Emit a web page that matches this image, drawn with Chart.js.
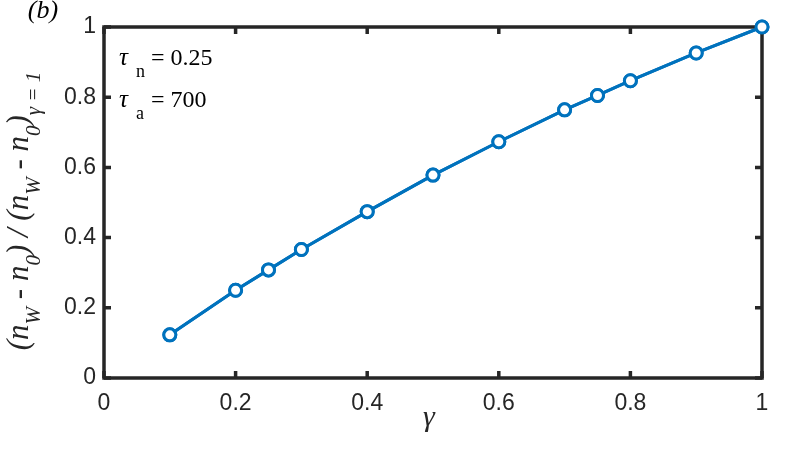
<!DOCTYPE html>
<html><head><meta charset="utf-8">
<script src="https://cdn.jsdelivr.net/npm/chart.js@4/dist/chart.umd.min.js"></script>
<style>html,body{margin:0;padding:0;background:#fff}#wrap{width:804px;height:453px;position:relative}</style>
</head><body><div id="wrap"><canvas id="c"></canvas></div>
<script>
const gammas = [0.1, 0.2, 0.25, 0.3, 0.4, 0.5, 0.6, 0.7, 0.75, 0.8, 0.9, 1.0];
const ratios = [0.123, 0.250, 0.308, 0.366, 0.474, 0.578, 0.673, 0.764, 0.805, 0.847, 0.926, 1.0];
const xTicks = [0, 0.2, 0.4, 0.6, 0.8, 1];
const yTicks = [0, 0.2, 0.4, 0.6, 0.8, 1];
const panelLabel = '(b)';
const xTitle = 'γ';
const annTau = [['n', '= 0.25'], ['a', '= 700']];

const BLUE = '#0072BD', AX = '#262626';
const SERIF = '"Liberation Serif", "Times New Roman", serif';
const SANS = '"Liberation Sans", Arial, Helvetica, sans-serif';

const boxPlugin = {
  id: 'box',
  afterDraw(chart) {
    const ctx = chart.ctx, a = chart.chartArea, xs = chart.scales.x, ys = chart.scales.y;
    ctx.save();
    ctx.strokeStyle = AX; ctx.lineWidth = 3.5; ctx.lineCap = 'square';
    ctx.strokeRect(a.left, a.top, a.right - a.left, a.bottom - a.top);
    const tl = 7;
    ctx.beginPath();
    xTicks.forEach(v => { const px = xs.getPixelForValue(v);
      ctx.moveTo(px, a.bottom); ctx.lineTo(px, a.bottom - tl);
      ctx.moveTo(px, a.top); ctx.lineTo(px, a.top + tl); });
    yTicks.forEach(v => { const py = ys.getPixelForValue(v);
      ctx.moveTo(a.left, py); ctx.lineTo(a.left + tl, py);
      ctx.moveTo(a.right, py); ctx.lineTo(a.right - tl, py); });
    ctx.lineCap = 'butt'; ctx.lineWidth = 3.5; ctx.stroke();
    ctx.restore();
    chart.getDatasetMeta(0).controller.draw();

    ctx.save();
    ctx.fillStyle = '#000';
    ctx.font = 'italic 26px ' + SERIF; ctx.textAlign = 'center'; ctx.textBaseline = 'alphabetic';
    ctx.fillText(panelLabel, 43, 18);
    ctx.font = 'italic 30px ' + SERIF; ctx.fillStyle = AX;
    ctx.fillText(xTitle, 429, 426);
    ctx.fillStyle = '#000'; ctx.textAlign = 'left';
    const bases = [65, 107];
    annTau.forEach((t, i) => {
      const b = bases[i];
      ctx.font = 'italic 25px ' + SERIF; ctx.fillText('τ', 119, b);
      ctx.font = '18px ' + SERIF; ctx.fillText(t[0], 136, b + 12);
      ctx.font = '24px ' + SERIF; ctx.fillText(t[1], 151, b);
    });
    const main = 'italic 31px ' + SERIF, sub = 'italic 21px ' + SERIF;
    const segs = [['(n', 0], ['W', 1], [' - n', 0], ['0', 1], [') / (n', 0], ['W', 1], [' - n', 0], ['0', 1], [')', 0], ['γ = 1', 1]];
    let total = 0;
    segs.forEach(s => { ctx.font = s[1] ? sub : main; total += ctx.measureText(s[0]).width; });
    ctx.translate(28, 211); ctx.rotate(-Math.PI / 2);
    ctx.fillStyle = AX;
    let x = -total / 2;
    segs.forEach(s => { ctx.font = s[1] ? sub : main; ctx.fillText(s[0], x, s[1] ? 12 : 0); x += ctx.measureText(s[0]).width; });
    ctx.restore();
  }
};

new Chart(document.getElementById('c'), {
  type: 'scatter',
  data: { datasets: [{
    data: gammas.map((g, i) => ({ x: g, y: ratios[i] })),
    showLine: true, borderColor: BLUE, borderWidth: 3,
    pointRadius: 6, pointBorderWidth: 3, pointBackgroundColor: '#fff', pointBorderColor: BLUE,
    pointHoverRadius: 6, clip: false, tension: 0
  }]},
  options: {
    responsive: true, maintainAspectRatio: false, animation: false,
    layout: { padding: { top: 27, right: 42, left: 0, bottom: 0 } },
    plugins: { legend: { display: false }, tooltip: { enabled: false } },
    scales: {
      x: { type: 'linear', min: 0, max: 1,
        afterBuildTicks: s => { s.ticks = xTicks.map(v => ({ value: v })); },
        afterFit: s => { s.height = 75; },
        grid: { display: false, drawTicks: false }, border: { display: false },
        ticks: { color: AX, font: { family: SANS, size: 23 }, padding: 12, maxRotation: 0,
          callback: v => String(v) } },
      y: { type: 'linear', min: 0, max: 1,
        afterBuildTicks: s => { s.ticks = yTicks.map(v => ({ value: v })); },
        afterFit: s => { s.width = 104; },
        grid: { display: false, drawTicks: false }, border: { display: false },
        ticks: { color: AX, font: { family: SANS, size: 23 }, padding: 8,
          callback: v => String(v) } }
    }
  },
  plugins: [boxPlugin]
});
</script></body></html>
